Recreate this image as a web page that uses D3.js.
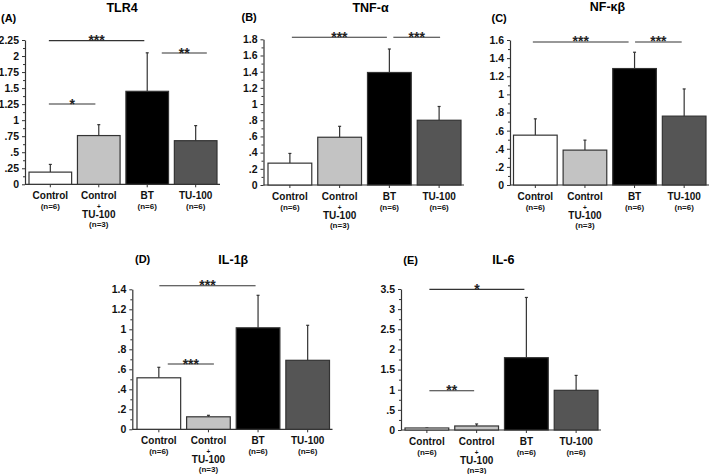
<!DOCTYPE html>
<html>
<head>
<meta charset="utf-8">
<script src="https://cdn.jsdelivr.net/npm/d3@7"></script>
<style>
  body { margin: 0; background: #fff; }
  svg { display: block; font-family: "Liberation Sans", Arial, sans-serif; font-weight: bold; }
</style>
</head>
<body>
<script>
// groups shown under every panel
const groupLines = [["Control"], ["Control", "+", "TU-100"], ["BT"], ["TU-100"]];
const groupN = ["(n=6)", "(n=3)", "(n=6)", "(n=6)"];
const groupFill = ["#ffffff", "#c3c3c3", "#000000", "#555555"];

// values (mean, error bar length)
const tlr4Mean = [0.19, 0.76, 1.45, 0.68];
const tlr4Err = [0.12, 0.17, 0.60, 0.235];
const tlr4Ticks = [0, 0.25, 0.5, 0.75, 1, 1.25, 1.5, 1.75, 2, 2.25];
const tlr4Sig = [
    { from: -0.03, to: 1.94, y: 2.24, label: "***" },
    { from: 2.3, to: 3.23, y: 2.047, label: "**" },
    { from: -0.03, to: 0.93, y: 1.252, label: "*" }
];

const tnfMean = [0.27, 0.59, 1.39, 0.80];
const tnfErr = [0.12, 0.135, 0.29, 0.17];
const tnfTicks = [0, 0.2, 0.4, 0.6, 0.8, 1, 1.2, 1.4, 1.6, 1.8];
const tnfSig = [
    { from: 0.04, to: 1.95, y: 1.825, label: "***" },
    { from: 2.08, to: 3.02, y: 1.825, label: "***" }
];

const nfkbMean = [0.55, 0.385, 1.285, 0.76];
const nfkbErr = [0.18, 0.11, 0.18, 0.30];
const nfkbTicks = [0, 0.2, 0.4, 0.6, 0.8, 1, 1.2, 1.4, 1.6];
const nfkbSig = [
    { from: -0.05, to: 1.88, y: 1.578, label: "***" },
    { from: 2.01, to: 2.95, y: 1.578, label: "***" }
];

const il1bMean = [0.515, 0.125, 1.015, 0.69];
const il1bErr = [0.105, 0.015, 0.325, 0.35];
const il1bTicks = [0, 0.2, 0.4, 0.6, 0.8, 1, 1.2, 1.4];
const il1bSig = [
    { from: 0.01, to: 1.95, y: 1.436, label: "***" },
    { from: 0.18, to: 1.11, y: 0.653, label: "***" }
];

const il6Mean = [0.05, 0.10, 1.795, 0.985];
const il6Err = [0, 0.05, 1.495, 0.37];
const il6Ticks = [0, 0.5, 1, 1.5, 2, 2.5, 3, 3.5];
const il6Sig = [
    { from: 0.05, to: 1.96, y: 3.49, label: "*" },
    { from: 0.05, to: 0.95, y: 0.975, label: "**" }
];

const panels = [
    { title: "TLR4", letter: "(A)", mean: tlr4Mean, err: tlr4Err, ticks: tlr4Ticks, sig: tlr4Sig },
    { title: "TNF-α", letter: "(B)", mean: tnfMean, err: tnfErr, ticks: tnfTicks, sig: tnfSig },
    { title: "NF-κβ", letter: "(C)", mean: nfkbMean, err: nfkbErr, ticks: nfkbTicks, sig: nfkbSig },
    { title: "IL-1β", letter: "(D)", mean: il1bMean, err: il1bErr, ticks: il1bTicks, sig: il1bSig },
    { title: "IL-6", letter: "(E)", mean: il6Mean, err: il6Err, ticks: il6Ticks, sig: il6Sig }
];

// where each panel sits on the page
const layout = [
    { axisX: 25, bar0: 29, bar1: 217, yTop: 40, yBot: 184.3, titleX: 122, titleY: 12, letterX: 1, letterY: 21.5 },
    { axisX: 263.5, bar0: 268, bar1: 461, yTop: 39.3, yBot: 185, titleX: 370.5, titleY: 11.5, letterX: 241.5, letterY: 21 },
    { axisX: 510, bar0: 513.5, bar1: 706, yTop: 40, yBot: 185, titleX: 607.5, titleY: 11, letterX: 491.5, letterY: 21.5 },
    { axisX: 132.3, bar0: 137, bar1: 329.5, yTop: 289.3, yBot: 429.3, titleX: 233.3, titleY: 263.5, letterX: 135, letterY: 263 },
    { axisX: 401, bar0: 405, bar1: 598, yTop: 289, yBot: 430, titleX: 503.3, titleY: 264, letterX: 403.3, letterY: 264 }
];

const width = 709, height = 474;
const ink = "#333";
const svg = d3.select("body").append("svg")
    .attr("width", width).attr("height", height)
    .attr("viewBox", `0 0 ${width} ${height}`);

const fmt = v => v === 0 ? "0" : d3.format("")(v).replace(/^0\./, ".");

panels.forEach((p, k) => {
    const L = layout[k];
    const g = svg.append("g");
    const maxV = p.ticks[p.ticks.length - 1];

    const x = d3.scaleBand().domain(d3.range(4)).range([L.bar0, L.bar1])
        .paddingInner(0.12).paddingOuter(0);
    const y = d3.scaleLinear().domain([0, maxV]).range([L.yBot, L.yTop]);
    const xi = d3.scaleLinear().domain([0, 3])
        .range([x(0) + x.bandwidth() / 2, x(3) + x.bandwidth() / 2]);

    // titles
    g.append("text").attr("x", L.titleX).attr("y", L.titleY)
        .attr("text-anchor", "middle").attr("font-size", 12.5).text(p.title);
    g.append("text").attr("x", L.letterX).attr("y", L.letterY)
        .attr("font-size", 11).text(p.letter);

    // minor ticks
    const stepV = p.ticks[1] - p.ticks[0];
    const minor = d3.range(0, maxV, stepV / 2).filter((v, i) => i % 2 === 1);
    g.append("g").attr("transform", `translate(${L.axisX},0)`)
        .call(d3.axisLeft(y).tickValues(minor).tickSize(2).tickFormat(""))
        .call(a => a.select(".domain").remove())
        .call(a => a.selectAll("line").attr("stroke", ink));

    // y axis
    g.append("g").attr("transform", `translate(${L.axisX},0)`)
        .call(d3.axisLeft(y).tickValues(p.ticks).tickFormat(fmt).tickSize(3).tickSizeOuter(0).tickPadding(3))
        .call(a => a.select(".domain").attr("stroke", ink).attr("stroke-width", 1.2))
        .call(a => a.selectAll("line").attr("stroke", ink))
        .call(a => a.selectAll("text").attr("font-size", 10.5).attr("font-family", null).attr("fill", "#111"));

    // x axis
    g.append("line")
        .attr("x1", L.axisX).attr("x2", L.bar1 + 3)
        .attr("y1", L.yBot).attr("y2", L.yBot)
        .attr("stroke", ink).attr("stroke-width", 1.2);
    g.append("g").attr("transform", `translate(0,${L.yBot})`)
        .call(d3.axisBottom(x).tickSize(3).tickFormat(""))
        .call(a => a.select(".domain").remove())
        .call(a => a.selectAll("line").attr("stroke", ink));

    // error bars
    const eb = g.append("g").selectAll("g").data(p.mean).join("g")
        .attr("transform", (d, i) => `translate(${x(i) + x.bandwidth() / 2},0)`);
    eb.append("line")
        .attr("y1", d => y(d)).attr("y2", (d, i) => y(d + p.err[i]))
        .attr("stroke", ink).attr("stroke-width", 1.2);
    eb.append("line")
        .attr("x1", -1.5).attr("x2", 1.5)
        .attr("y1", (d, i) => y(d + p.err[i])).attr("y2", (d, i) => y(d + p.err[i]))
        .attr("stroke", ink).attr("stroke-width", 1.2);

    // bars
    g.append("g").selectAll("rect").data(p.mean).join("rect")
        .attr("x", (d, i) => x(i))
        .attr("width", x.bandwidth())
        .attr("y", d => y(d))
        .attr("height", d => y(0) - y(d))
        .attr("fill", (d, i) => groupFill[i])
        .attr("stroke", ink).attr("stroke-width", 1.2);

    // group labels
    const lab = g.append("g").selectAll("g").data(groupLines).join("g")
        .attr("transform", (d, i) => `translate(${x(i) + x.bandwidth() / 2},${L.yBot})`)
        .attr("text-anchor", "middle").attr("fill", "#111");
    lab.append("text").attr("y", 15).attr("font-size", 10).text(d => d[0]);
    lab.filter(d => d.length > 1).append("text").attr("y", 24.5).attr("font-size", 6.5).text(d => d[1]);
    lab.filter(d => d.length > 1).append("text").attr("y", 34).attr("font-size", 10).text(d => d[2]);
    lab.append("text").attr("y", d => d.length > 1 ? 43 : 24.5).attr("font-size", 8)
        .text((d, i) => groupN[i]);

    // significance lines
    const sg = g.append("g").selectAll("g").data(p.sig).join("g");
    sg.append("line")
        .attr("x1", d => xi(d.from)).attr("x2", d => xi(d.to))
        .attr("y1", d => y(d.y)).attr("y2", d => y(d.y))
        .attr("stroke", ink).attr("stroke-width", 1.1);
    sg.append("text")
        .attr("x", d => (xi(d.from) + xi(d.to)) / 2)
        .attr("y", d => y(d.y) + 4.5)
        .attr("text-anchor", "middle").attr("font-size", 14).attr("fill", "#222")
        .text(d => d.label);
});
</script>
</body>
</html>
